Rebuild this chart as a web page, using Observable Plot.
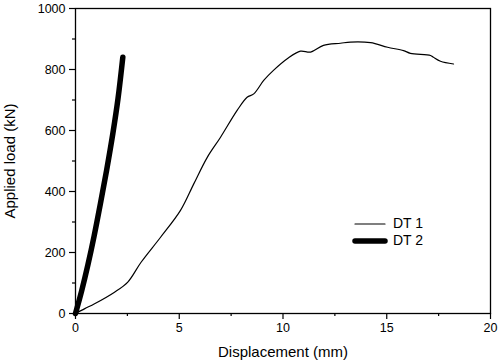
<!DOCTYPE html>
<html>
<head>
<meta charset="utf-8">
<script src="https://cdn.jsdelivr.net/npm/d3@7"></script>
<script src="https://cdn.jsdelivr.net/npm/@observablehq/plot@0.6"></script>
<style>
  html, body { margin: 0; padding: 0; background: #fff; }
  #wrap { position: relative; width: 500px; height: 362px; font-family: Arial, "Liberation Sans", sans-serif; }
  #legend { position: absolute; left: 352px; top: 215px; font-size: 14px; color: #000; line-height: 17px; }
  #legend div { display: flex; align-items: center; height: 17px; }
  #legend svg { margin-right: 5px; }
</style>
</head>
<body>
<div id="wrap"></div>
<script>
// DT 1 series (displacement mm, load kN)
const dt1X = [0, 0.45, 0.92, 1.88, 2.52, 3.16, 4.10, 5.06, 5.70, 6.35, 6.99, 7.79, 8.27, 8.59, 9.07, 9.54, 10.22, 10.84, 11.33, 11.95, 12.77, 13.25, 14.22, 15.04, 15.81, 16.14, 17.11, 17.25, 17.59, 18.22];
const dt1Y = [0, 16, 32, 70, 103, 168, 250, 338, 425, 512, 578, 666, 709, 720, 764, 797, 836, 860, 857, 879, 886, 890, 888, 873, 862, 853, 846, 840, 827, 818];
// DT 2 series
const dt2X = [0, 0.3, 0.6, 0.9, 1.2, 1.5, 1.8, 2.05, 2.28];
const dt2Y = [0, 75, 160, 255, 360, 470, 590, 705, 840];
// Axis ticks
const xTicks = [0, 5, 10, 15, 20];
const xMinor = [2.5, 7.5, 12.5, 17.5];
const yTicks = [0, 200, 400, 600, 800, 1000];
const yMinor = [100, 300, 500, 700, 900];
const seriesNames = ["DT 1", "DT 2"];

const dt1 = dt1X.map((x, i) => ({x, y: dt1Y[i]}));
const dt2 = dt2X.map((x, i) => ({x, y: dt2Y[i]}));

const chart = Plot.plot({
  width: 500,
  height: 362,
  marginLeft: 75,
  marginRight: 10,
  marginTop: 8,
  marginBottom: 49,
  style: { fontFamily: "Arial, 'Liberation Sans', sans-serif", fontSize: "12px", color: "#000", background: "#fff" },
  x: { domain: [0, 20] },
  y: { domain: [0, 1000] },
  marks: [
    Plot.axisX({ ticks: xMinor, tickSize: 3, tickFormat: () => "", label: null, strokeWidth: 1.2 }),
    Plot.axisY({ ticks: yMinor, tickSize: 3, tickFormat: () => "", label: null, strokeWidth: 1.2 }),
    Plot.axisX({ ticks: xTicks, tickSize: 6, tickPadding: 4, fontSize: 12.5, strokeWidth: 1.2, tickFormat: d => String(d),
                 label: "Displacement (mm)", labelAnchor: "center", labelArrow: "none", labelOffset: 43 }),
    Plot.axisY({ ticks: yTicks, tickSize: 6, tickPadding: 4, fontSize: 12.5, strokeWidth: 1.2, tickFormat: d => String(d),
                 label: "Applied load (kN)", labelAnchor: "center", labelArrow: "none", labelOffset: 71 }),
    Plot.line(dt1, { x: "x", y: "y", stroke: "#000", strokeWidth: 1.2, curve: "catmull-rom" }),
    Plot.line(dt2, { x: "x", y: "y", stroke: "#000", strokeWidth: 5.5, strokeLinecap: "round", strokeLinejoin: "round", curve: "catmull-rom" }),
    Plot.frame({ stroke: "#000", strokeWidth: 1.3 })
  ]
});

// enlarge axis label font
chart.querySelectorAll("g[aria-label='x-axis label'] text, g[aria-label='y-axis label'] text").forEach(t => t.setAttribute("font-size", "15"));

const wrap = document.getElementById("wrap");
wrap.appendChild(chart);

const legend = document.createElement("div");
legend.id = "legend";
const widths = [1.2, 5.5];
seriesNames.forEach((name, i) => {
  const row = document.createElement("div");
  row.innerHTML = `<svg width="36" height="10"><line x1="3" y1="5" x2="33" y2="5" stroke="#000" stroke-width="${widths[i]}" stroke-linecap="round"/></svg><span>${name}</span>`;
  legend.appendChild(row);
});
wrap.appendChild(legend);
</script>
</body>
</html>
